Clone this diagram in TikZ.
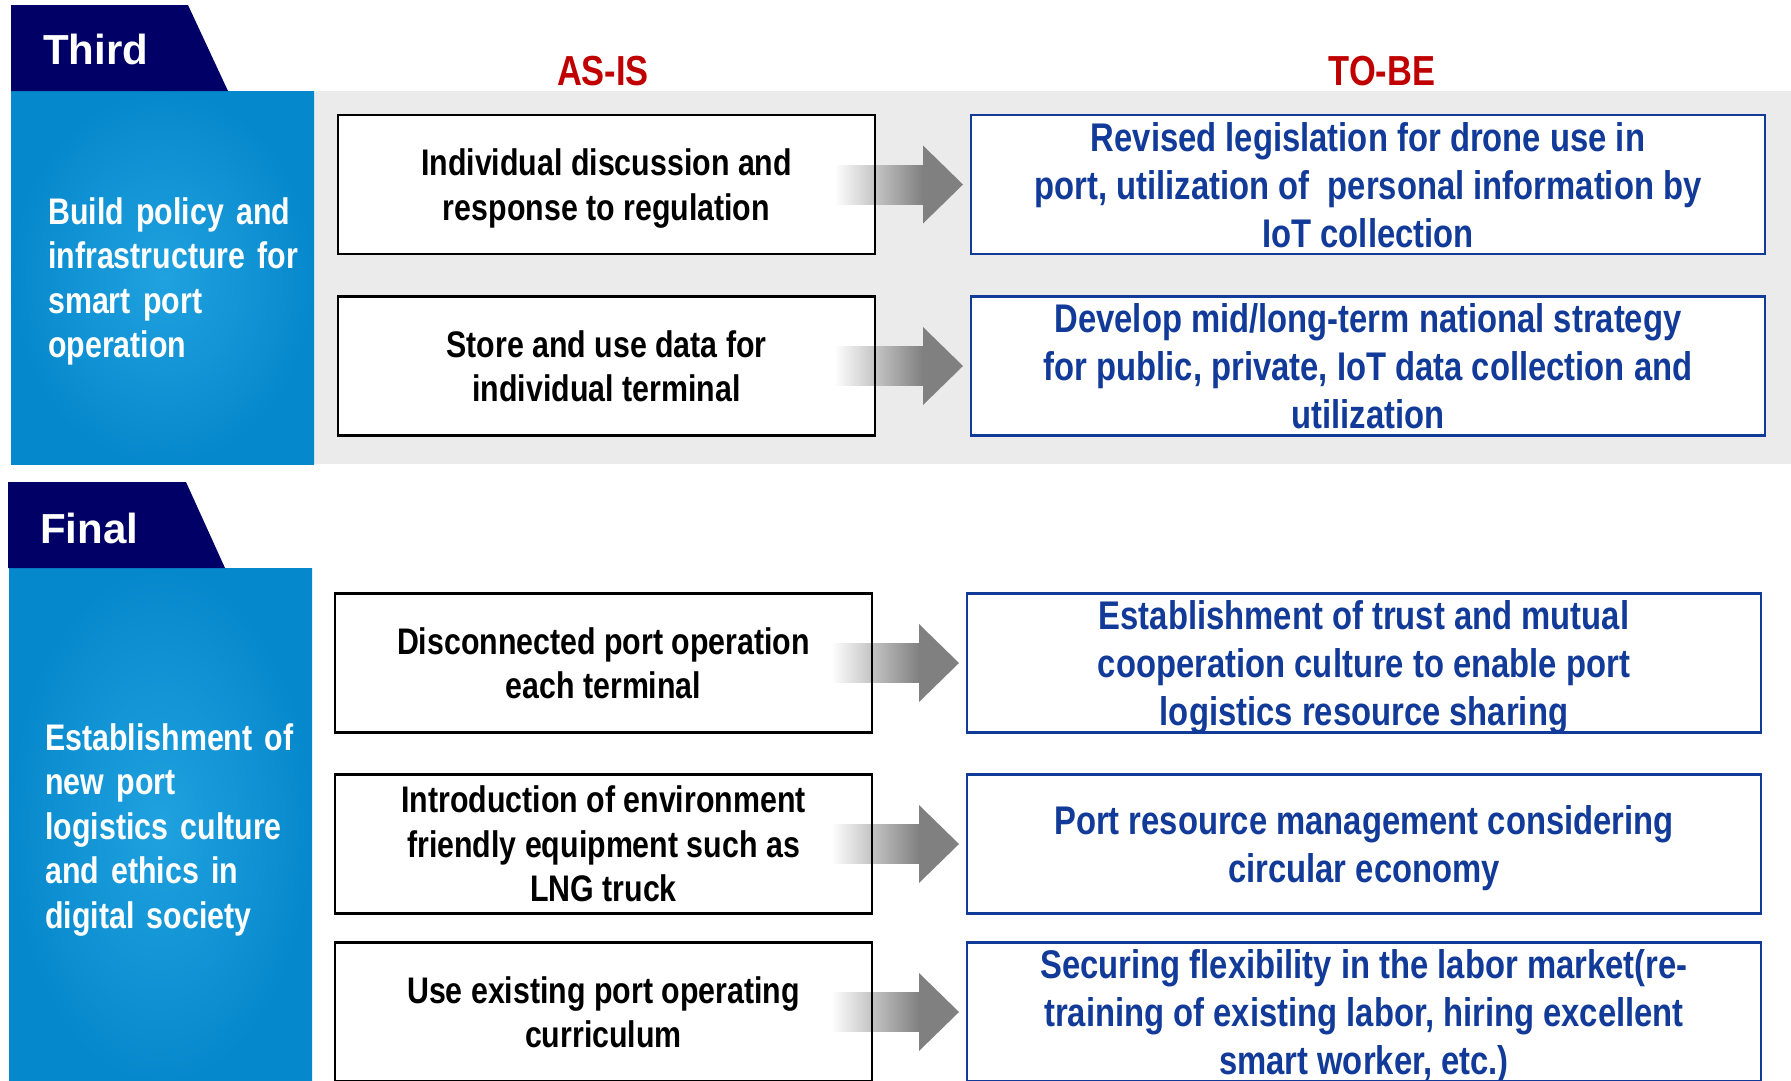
\documentclass[tikz,border=0pt]{standalone}
\usepackage{fontspec}
\setmainfont{Liberation Sans}
\newfontfamily\narrowfont[FakeStretch=0.82]{Liberation Sans}
\usetikzlibrary{calc}
\definecolor{navy}{RGB}{0,0,102}
\definecolor{panelin}{RGB}{32,162,224}
\definecolor{panelout}{RGB}{6,136,204}
\definecolor{bandgray}{RGB}{235,235,235}
\definecolor{tobeblue}{RGB}{18,58,152}
\definecolor{headred}{RGB}{192,0,0}
\definecolor{arrowgray}{RGB}{128,128,128}
\newcommand\blockarrow[2]{%
  \shade[left color=white,right color=arrowgray]
    ($(#1.east)+(-41,-19.5)$) rectangle ($(#2.west)+(-48,19.5)$);
  \fill[arrowgray] ($(#2.west)+(-48,-39)$) -- ($(#2.west)+(-8,0)$) -- ($(#2.west)+(-48,39)$) -- cycle;
  \draw[black,line width=2.5pt] (#1.north east) -- (#1.south east);
}
\begin{document}
\begin{tikzpicture}[x=1pt,y=-1pt,
  boxtext/.style={text depth=0pt,execute at begin node={\rule{0pt}{0.7\baselineskip}}},
  asis/.style={draw=black,line width=2.5pt,fill=white,minimum width=537pt,minimum height=139pt,
    inner sep=0pt,outer sep=0pt,align=center,text=black,boxtext,
    font=\narrowfont\bfseries\fontsize{37}{44.5}\selectfont},
  tobe/.style={draw=tobeblue,line width=2.5pt,fill=white,minimum width=794pt,minimum height=139pt,
    inner sep=0pt,outer sep=0pt,align=center,text=tobeblue,boxtext,
    font=\narrowfont\bfseries\fontsize{40}{48}\selectfont},
  tablabel/.style={anchor=west,inner sep=0pt,text=white,font=\bfseries\fontsize{42}{48}\selectfont},
  panellabel/.style={anchor=west,inner sep=0pt,text=white,text width=265pt,align=left,
    font=\narrowfont\bfseries\fontsize{37}{44.5}\selectfont},
  heading/.style={inner sep=0pt,text=headred,font=\narrowfont\bfseries\fontsize{42}{48}\selectfont},
  tabshape/.style={fill=navy},
  panelshape/.style={inner color=panelin,outer color=panelout}
]
\useasboundingbox (0,0) rectangle (1791,1080);
\clip (0,0) rectangle (1791,1080);
\fill[white] (0,0) rectangle (1791,1080);

% ---------- Third section ----------
\fill[bandgray] (314,91) rectangle (1791,464);
\shade[panelshape] (11,91) rectangle (314,464);
\fill[tabshape] (11,5) -- (188,5) -- (228,91) -- (11,91) -- cycle;
\node[tablabel] (third) at (43,49) {Third};
\node[panellabel] (p1) at (48,281.5) {Build policy and\\infrastructure for\\smart port\\operation};

\node[heading] (hasis) at (603,71) {AS-IS};
\node[heading] (htobe) at (1382,71) {TO-BE};

\node[asis] (a1) at (606.5,184.5) {Individual discussion and\\response to regulation};
\node[asis] (a2) at (606.5,366) {Store and use data for\\individual terminal};
\node[tobe] (b1) at (1368,184.5) {Revised legislation for drone use in\\port, utilization of\ \ personal information by\\IoT collection};
\node[tobe] (b2) at (1368,366) {Develop mid/long-term national strategy\\for public, private, IoT data collection and\\utilization};
\blockarrow{a1}{b1}
\blockarrow{a2}{b2}

% ---------- Final section ----------
\shade[panelshape] (9,568) rectangle (312,1084);
\fill[tabshape] (8,482) -- (186,482) -- (225,568) -- (8,568) -- cycle;
\node[tablabel] (final) at (40,528) {Final};
\node[panellabel] (p2) at (45,830) {Establishment of\\new port\\logistics culture\\and ethics in\\digital society};

\node[asis] (a3) at (603.5,663) {Disconnected port operation\\each terminal};
\node[asis] (a4) at (603.5,844) {Introduction of environment\\friendly equipment such as\\LNG truck};
\node[asis] (a5) at (603.5,1012) {Use existing port operating\\curriculum};
\node[tobe] (b3) at (1364,663) {Establishment of trust and mutual\\cooperation culture to enable port\\logistics resource sharing};
\node[tobe] (b4) at (1364,844) {Port resource management considering\\circular economy};
\node[tobe] (b5) at (1364,1012) {Securing flexibility in the labor market(re-\\training of existing labor, hiring excellent\\smart worker, etc.)};
\blockarrow{a3}{b3}
\blockarrow{a4}{b4}
\blockarrow{a5}{b5}
\end{tikzpicture}
\end{document}
